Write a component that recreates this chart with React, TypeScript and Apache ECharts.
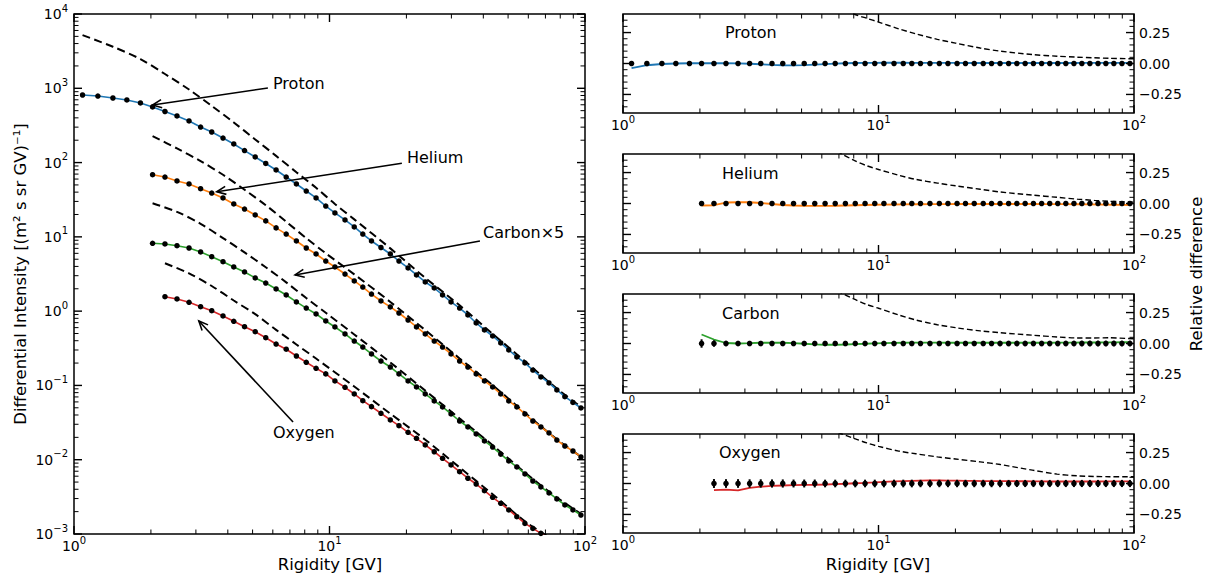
import React, { useEffect, useRef } from 'react';
import * as echarts from 'echarts';

const FONT = '"DejaVu Sans", sans-serif';

// Rigidity bin centres [GV]
const binsR = [1.08, 1.24, 1.42, 1.61, 1.82, 2.03, 2.27, 2.53, 2.82, 3.13,
  3.46, 3.83, 4.22, 4.65, 5.12, 5.63, 6.18, 6.77, 7.42, 8.11,
  8.86, 9.67, 10.5, 11.5, 12.5, 13.5, 14.6, 15.9, 17.3, 18.7,
  20.3, 21.9, 23.7, 25.7, 27.7, 29.9, 32.3, 34.8, 37.5, 40.4,
  43.5, 46.8, 50.3, 54.1, 58.2, 62.5, 67.2, 72.3, 77.6, 83.4,
  89.7, 96.4];

// Differential intensities (left panel); helium & carbon start at binsR[5], oxygen at binsR[6]
const protonFlux = [812, 787, 740, 696, 634, 560, 487, 424, 363, 301,
  258, 214, 178, 145, 119, 97.2, 79.5, 63.9, 51.5, 41.4,
  33.4, 26.0, 21.0, 16.9, 13.6, 10.9, 8.80, 7.19, 5.88, 4.73,
  3.81, 3.07, 2.47, 2.05, 1.65, 1.33, 1.10, 0.888, 0.693, 0.558,
  0.463, 0.373, 0.300, 0.242, 0.201, 0.161, 0.130, 0.108, 0.0869, 0.0706,
  0.0590, 0.0497];
const heliumFlux = [68.7, 63.9, 56.5, 51.5, 44.5, 38.9, 33.4, 27.7, 23.7, 19.7,
  16.4, 13.2, 10.9, 8.80, 7.08, 5.88, 4.73, 3.93, 3.16, 2.55,
  2.11, 1.70, 1.37, 1.14, 0.944, 0.760, 0.612, 0.493, 0.396, 0.329,
  0.265, 0.213, 0.177, 0.143, 0.115, 0.0953, 0.0767, 0.0618, 0.0513, 0.0413,
  0.0332, 0.0276, 0.0229, 0.0184, 0.0153, 0.0131, 0.0109];
const carbonX5Flux = [8.19, 8.02, 7.61, 7.08, 6.26, 5.41, 4.63, 3.93, 3.37, 2.80,
  2.39, 1.99, 1.65, 1.33, 1.10, 0.916, 0.737, 0.612, 0.493, 0.396,
  0.329, 0.265, 0.213, 0.177, 0.143, 0.115, 0.0953, 0.0767, 0.0618, 0.0513,
  0.0413, 0.0332, 0.0276, 0.0222, 0.0179, 0.0148, 0.0119, 0.00962, 0.00799, 0.00643,
  0.00517, 0.00430, 0.00357, 0.00296, 0.00246, 0.00211, 0.00180];
const oxygenFlux = [1.565, 1.458, 1.316, 1.148, 1.014, 0.861, 0.730, 0.618, 0.529, 0.439,
  0.361, 0.307, 0.249, 0.205, 0.170, 0.143, 0.115, 0.0944, 0.0767, 0.0623,
  0.0518, 0.0422, 0.0343, 0.0287, 0.0234, 0.0194, 0.0158, 0.0128, 0.01046, 0.00850,
  0.00690, 0.00563, 0.00471, 0.00383, 0.00312, 0.00259, 0.00211, 0.00171, 0.00139, 0.00119,
  0.00102, 0.000857];

// Local interstellar spectra (dashed, left panel)
const protonLisR = [1.08, 1.42, 1.82, 2.27, 2.82, 3.46, 4.22, 5.12, 6.18, 7.42, 8.86, 10.5, 12.5, 17.3, 23.7, 32.3, 43.5, 58.2, 77.6, 96.4];
const protonLis = [5197, 3626, 2473, 1558, 962, 580, 347, 205, 123, 74.2, 45.8, 27.7, 17.2, 7.0, 2.80, 1.20, 0.494, 0.212, 0.0905, 0.0516];
const heliumLisR = [2.03, 2.53, 3.13, 3.83, 4.65, 5.63, 6.77, 8.11, 9.67, 12.5, 17.3, 23.7, 32.3, 43.5, 58.2, 77.6, 96.4];
const heliumLis = [227, 155, 104.6, 68.5, 43.1, 26.7, 16.0, 9.6, 6.0, 3.13, 1.33, 0.555, 0.231, 0.101, 0.0428, 0.0188, 0.0110];
const carbonLisR = [2.03, 2.53, 3.13, 3.83, 4.65, 5.63, 6.77, 8.11, 9.67, 12.5, 17.3, 23.7, 32.3, 43.5, 58.2, 77.6, 96.4];
const carbonLis = [28.3, 21.7, 15.0, 9.63, 6.17, 3.90, 2.44, 1.50, 0.951, 0.485, 0.204, 0.0851, 0.0359, 0.0157, 0.00672, 0.00310, 0.00187];
const oxygenLisR = [2.27, 2.82, 3.46, 4.22, 5.12, 6.18, 7.42, 8.86, 12.5, 17.3, 23.7, 32.3, 43.5, 58.2, 72.3];
const oxygenLis = [4.41, 3.22, 2.18, 1.39, 0.91, 0.56, 0.356, 0.230, 0.0966, 0.0417, 0.0186, 0.00787, 0.00342, 0.00148, 0.000906];

// Relative difference of model (right panels)
const protonRel = [-0.038, -0.014, -0.004, 0.000, 0.002, 0.002, 0.002, 0.002, 0.001, -0.002,
  -0.006, -0.011, -0.014, -0.015, -0.013, -0.009, -0.005, -0.001, 0.002, 0.004,
  0.005, 0.005, 0.006, 0.006, 0.006, 0.005, 0.005, 0.005, 0.005, 0.005,
  0.005, 0.004, 0.004, 0.004, 0.004, 0.004, 0.004, 0.004, 0.004, 0.004,
  0.004, 0.004, 0.004, 0.004, 0.004, 0.005, 0.005, 0.005, 0.005, 0.005,
  0.005, 0.005];
const heliumRel = [-0.016, -0.014, 0.008, 0.010, 0.010, 0.004, -0.004, -0.012, -0.016, -0.018,
  -0.019, -0.019, -0.018, -0.016, -0.014, -0.012, -0.010, -0.009, -0.008, -0.007,
  -0.006, -0.006, -0.005, -0.005, -0.005, -0.004, -0.004, -0.004, -0.004, -0.004,
  -0.004, -0.004, -0.004, -0.004, -0.004, -0.005, -0.005, -0.005, -0.005, -0.006,
  -0.006, -0.007, -0.008, -0.009, -0.010, -0.011, -0.012];
const carbonRel = [0.073, 0.032, 0.004, 0.000, 0.003, 0.006, 0.007, 0.006, 0.003, -0.002,
  -0.007, -0.010, -0.010, -0.008, -0.005, -0.002, 0.001, 0.003, 0.005, 0.006,
  0.007, 0.007, 0.007, 0.007, 0.006, 0.006, 0.006, 0.006, 0.006, 0.006,
  0.006, 0.006, 0.006, 0.006, 0.006, 0.006, 0.006, 0.007, 0.007, 0.007,
  0.008, 0.008, 0.008, 0.009, 0.009, 0.010, 0.010];
const oxygenRel = [-0.054, -0.050, -0.056, -0.036, -0.026, -0.020, -0.016, -0.013, -0.011, -0.010,
  -0.008, -0.005, -0.002, 0.002, 0.005, 0.009, 0.013, 0.017, 0.020, 0.022,
  0.024, 0.025, 0.025, 0.024, 0.023, 0.022, 0.021, 0.020, 0.020, 0.019,
  0.019, 0.018, 0.018, 0.017, 0.017, 0.016, 0.016, 0.016, 0.016, 0.016,
  0.016, 0.016, 0.017, 0.017, 0.017, 0.017];

// Data error bars (relative) for carbon and oxygen
const carbonErr = [0.034, 0.026, 0.022, 0.021, 0.021, 0.021, 0.021, 0.021, 0.021, 0.021,
  0.021, 0.021, 0.021, 0.021, 0.021, 0.021, 0.021, 0.021, 0.021, 0.021,
  0.021, 0.021, 0.021, 0.021, 0.021, 0.021, 0.021, 0.021, 0.021, 0.021,
  0.022, 0.022, 0.022, 0.022, 0.022, 0.022, 0.022, 0.022, 0.022, 0.022,
  0.023, 0.023, 0.023, 0.023, 0.023, 0.023, 0.023];
const oxygenErr = [0.036, 0.035, 0.035, 0.034, 0.034, 0.033, 0.033, 0.032, 0.032, 0.032,
  0.031, 0.031, 0.031, 0.031, 0.031, 0.031, 0.031, 0.031, 0.031, 0.031,
  0.030, 0.030, 0.030, 0.030, 0.030, 0.030, 0.030, 0.030, 0.030, 0.030,
  0.029, 0.029, 0.029, 0.029, 0.029, 0.029, 0.029, 0.029, 0.029, 0.029,
  0.029, 0.029, 0.029, 0.029, 0.029, 0.029];

// Relative difference of LIS (dashed, right panels)
const relDashR = [6.5, 7, 8, 9, 10, 12, 14, 17, 20, 25, 30, 40, 50, 60, 70, 80, 100];
const protonDash = [0.50, 0.46, 0.40, 0.365, 0.335, 0.28, 0.24, 0.195, 0.165, 0.125, 0.10, 0.072, 0.059, 0.051, 0.046, 0.042, 0.038];
const heliumDash = [0.47, 0.415, 0.35, 0.305, 0.275, 0.228, 0.195, 0.165, 0.143, 0.115, 0.093, 0.068, 0.05, 0.035, 0.025, 0.018, 0.011];
const carbonDash = [0.47, 0.42, 0.36, 0.315, 0.285, 0.23, 0.19, 0.152, 0.128, 0.102, 0.087, 0.067, 0.053, 0.045, 0.045, 0.046, 0.038];
const oxygenDash = [0.45, 0.41, 0.365, 0.328, 0.30, 0.262, 0.24, 0.215, 0.198, 0.175, 0.153, 0.108, 0.076, 0.062, 0.057, 0.055, 0.054];

// Annotations (data coordinates of left panel)
const annLabels = ['Proton', 'Helium', 'Carbon×5', 'Oxygen'];
const annTextR = [6.01, 20.1, 39.9, 6.01];
const annTextI = [1178, 117, 11.6, 0.0233];
const annTailR = [5.74, 19.2, 38.8, 7.20];
const annTailI = [1009, 97.8, 8.80, 0.0322];
const annTipR = [2.03, 3.62, 7.33, 3.08];
const annTipI = [596, 40.5, 3.07, 0.737];

const panelNames = ['Proton', 'Helium', 'Carbon', 'Oxygen'];
const colors = ['#1f77b4', '#ff7f0e', '#2ca02c', '#d62728'];

const xMajorTicks = [1, 10, 100];
const xMinorTicks = [2, 3, 4, 5, 6, 7, 8, 9, 20, 30, 40, 50, 60, 70, 80, 90];
const yMainMajor = [1e-3, 1e-2, 1e-1, 1, 10, 100, 1000, 10000];
const yMainMinor: number[] = [];
for (let e = -3; e < 4; e++) for (let k = 2; k <= 9; k++) yMainMinor.push(k * Math.pow(10, e));
const yRelMajor = [-0.25, 0, 0.25];
const yRelMinor = [-0.35, -0.3, -0.2, -0.15, -0.1, -0.05, 0.05, 0.1, 0.15, 0.2, 0.3, 0.35];

const pts = (xs: number[], ys: number[]) => ys.map((y, i) => [xs[i], y]);

const supRich = {
  b: { fontSize: 14, lineHeight: 22, verticalAlign: 'middle', fontFamily: FONT, color: '#000' },
  s: { fontSize: 10, lineHeight: 12, verticalAlign: 'top', fontFamily: FONT, color: '#000' },
};
const powLabel = (v: number) => {
  const e = Math.round(Math.log10(v));
  return '{b|10}{s|' + String(e).replace('-', '\u2212') + '}';
};

function tickSeries(gi: number, items: number[][]) {
  return {
    type: 'custom',
    xAxisIndex: gi,
    yAxisIndex: gi,
    silent: true,
    z: 10,
    data: items,
    renderItem: (params: any, api: any) => {
      const cs = params.coordSys;
      const kind = api.value(3);
      const major = api.value(2) === 1;
      const len = major ? 8 : 4.5;
      const style = { stroke: '#000', lineWidth: major ? 1.4 : 1 };
      const p = api.coord([api.value(0), api.value(1)]);
      if (kind === 0) {
        const x = p[0];
        return {
          type: 'group', children: [
            { type: 'line', shape: { x1: x, y1: cs.y + cs.height, x2: x, y2: cs.y + cs.height - len }, style },
            { type: 'line', shape: { x1: x, y1: cs.y, x2: x, y2: cs.y + len }, style },
          ],
        };
      }
      const y = p[1];
      return {
        type: 'group', children: [
          { type: 'line', shape: { x1: cs.x, y1: y, x2: cs.x + len, y2: y }, style },
          { type: 'line', shape: { x1: cs.x + cs.width, y1: y, x2: cs.x + cs.width - len, y2: y }, style },
        ],
      };
    },
  };
}

export default function App() {
  const ref = useRef<HTMLDivElement>(null);
  useEffect(() => {
    if (!ref.current) return;
    const chart = echarts.init(ref.current, undefined, { renderer: 'svg' });

    const panelTops = [14, 154, 294, 434];
    const grids: any[] = [
      { left: 74, top: 14, width: 511, height: 520 },
      ...panelTops.map((t) => ({ left: 623, top: t, width: 511, height: 99 })),
    ].map((g) => ({ ...g, show: true, borderColor: '#000', borderWidth: 1.5, backgroundColor: 'transparent', containLabel: false, outerBoundsMode: 'none' }));

    const xAxes: any[] = grids.map((_, i) => ({
      type: 'log', logBase: 10, min: 1, max: 100, gridIndex: i,
      axisLine: { show: false }, axisTick: { show: false }, splitLine: { show: false },
      axisLabel: { formatter: powLabel, rich: supRich, margin: 1 },
    }));
    const yAxes: any[] = [
      {
        type: 'log', logBase: 10, min: 1e-3, max: 1e4, gridIndex: 0,
        axisLine: { show: false }, axisTick: { show: false }, splitLine: { show: false },
        axisLabel: { formatter: powLabel, rich: supRich, margin: 6 },
      },
      ...panelTops.map((_, k) => ({
        type: 'value', min: -0.4, max: 0.4, interval: 0.05, gridIndex: k + 1, position: 'right',
        axisLine: { show: false }, axisTick: { show: false }, splitLine: { show: false },
        axisLabel: {
          margin: 5, fontSize: 14, fontFamily: FONT, color: '#000',
          formatter: (v: number) => (Math.abs(v - 0.25) < 1e-6 ? '0.25' : Math.abs(v) < 1e-6 ? '0.00' : Math.abs(v + 0.25) < 1e-6 ? '\u22120.25' : ''),
        },
      })),
    ];

    const mainR = [binsR, binsR.slice(5), binsR.slice(5), binsR.slice(6)];
    const mainFlux = [protonFlux, heliumFlux, carbonX5Flux, oxygenFlux];
    const lisR = [protonLisR, heliumLisR, carbonLisR, oxygenLisR];
    const lisV = [protonLis, heliumLis, carbonLis, oxygenLis];
    const relR = [binsR, binsR.slice(5), binsR.slice(5), binsR.slice(6)];
    const relV = [protonRel, heliumRel, carbonRel, oxygenRel];
    const dashV = [protonDash, heliumDash, carbonDash, oxygenDash];
    const errV: (number[] | null)[] = [null, null, carbonErr, oxygenErr];

    const series: any[] = [];
    for (let k = 0; k < 4; k++) {
      series.push({
        type: 'line', xAxisIndex: 0, yAxisIndex: 0, data: pts(lisR[k], lisV[k]), showSymbol: false, smooth: 0.3,
        lineStyle: { color: '#000', width: 2, type: [8, 4.5] }, z: 2, silent: true,
      });
      series.push({
        type: 'line', xAxisIndex: 0, yAxisIndex: 0, data: pts(mainR[k], mainFlux[k]), showSymbol: false,
        lineStyle: { color: colors[k], width: 1.6 }, z: 3, silent: true,
      });
      series.push({
        type: 'scatter', xAxisIndex: 0, yAxisIndex: 0, data: pts(mainR[k], mainFlux[k]), symbolSize: 5.5,
        itemStyle: { color: '#000', opacity: 1 }, z: 4, silent: true,
      });
      const gi = k + 1;
      series.push({
        type: 'line', xAxisIndex: gi, yAxisIndex: gi, data: pts(relDashR, dashV[k]), showSymbol: false, smooth: 0.3,
        lineStyle: { color: '#000', width: 1.4, type: [5.5, 3] }, z: 2, silent: true,
      });
      series.push({
        type: 'line', xAxisIndex: gi, yAxisIndex: gi, data: pts(relR[k], relV[k]), showSymbol: false,
        lineStyle: { color: colors[k], width: 1.8 }, z: 3, silent: true,
      });
      const ev = errV[k];
      if (ev) {
        series.push({
          type: 'custom', xAxisIndex: gi, yAxisIndex: gi, silent: true, z: 4,
          data: relR[k].map((r, i) => [r, 0, ev[i]]),
          renderItem: (_p: any, api: any) => {
            const a = api.coord([api.value(0), api.value(1) - api.value(2)]);
            const b = api.coord([api.value(0), api.value(1) + api.value(2)]);
            return { type: 'line', shape: { x1: a[0], y1: a[1], x2: b[0], y2: b[1] }, style: { stroke: '#000', lineWidth: 2 } };
          },
        });
      }
      series.push({
        type: 'scatter', xAxisIndex: gi, yAxisIndex: gi, data: relR[k].map((r) => [r, 0]), symbolSize: 5.5,
        itemStyle: { color: '#000', opacity: 1 }, z: 5, silent: true,
      });
    }

    // ticks
    series.push(tickSeries(0, [
      ...xMajorTicks.map((v) => [v, 1e-3, 1, 0]),
      ...xMinorTicks.map((v) => [v, 1e-3, 0, 0]),
      ...yMainMajor.map((v) => [1, v, 1, 1]),
      ...yMainMinor.map((v) => [1, v, 0, 1]),
    ]));
    for (let k = 1; k <= 4; k++) {
      series.push(tickSeries(k, [
        ...xMajorTicks.map((v) => [v, -0.4, 1, 0]),
        ...xMinorTicks.map((v) => [v, -0.4, 0, 0]),
        ...yRelMajor.map((v) => [1, v, 1, 1]),
        ...yRelMinor.map((v) => [1, v, 0, 1]),
      ]));
    }

    // annotations
    series.push({
      type: 'custom', xAxisIndex: 0, yAxisIndex: 0, silent: true, z: 20,
      data: annLabels.map((_, i) => [annTextR[i], annTextI[i], annTailR[i], annTailI[i], annTipR[i], annTipI[i]]),
      renderItem: (params: any, api: any) => {
        const txt = api.coord([api.value(0), api.value(1)]);
        const tail = api.coord([api.value(2), api.value(3)]);
        const tip = api.coord([api.value(4), api.value(5)]);
        const ang = Math.atan2(tail[1] - tip[1], tail[0] - tip[0]);
        const hl = 10, ha = 0.42;
        const h1 = [tip[0] + hl * Math.cos(ang + ha), tip[1] + hl * Math.sin(ang + ha)];
        const h2 = [tip[0] + hl * Math.cos(ang - ha), tip[1] + hl * Math.sin(ang - ha)];
        const st = { stroke: '#000', lineWidth: 1.6, fill: 'none' };
        return {
          type: 'group', children: [
            { type: 'line', shape: { x1: tail[0], y1: tail[1], x2: tip[0], y2: tip[1] }, style: st },
            { type: 'polyline', shape: { points: [h1, tip, h2] }, style: st },
            {
              type: 'text', x: txt[0], y: txt[1],
              style: { text: annLabels[params.dataIndex], fill: '#000', fontSize: 16, fontFamily: FONT, align: 'left', verticalAlign: 'middle' },
            },
          ],
        };
      },
    });

    const panelLabelPos = [[725, 32], [722, 173], [722, 313], [719, 452]];
    const graphic: any[] = [
      ...panelNames.map((n, k) => ({
        type: 'text', x: panelLabelPos[k][0], y: panelLabelPos[k][1], silent: true,
        style: { text: n, fill: '#000', fontSize: 16, fontFamily: FONT, align: 'left', verticalAlign: 'middle' },
      })),
      { type: 'text', x: 330, y: 564, silent: true, style: { text: 'Rigidity [GV]', fill: '#000', fontSize: 16.5, fontFamily: FONT, align: 'center', verticalAlign: 'middle' } },
      { type: 'text', x: 878, y: 564, silent: true, style: { text: 'Rigidity [GV]', fill: '#000', fontSize: 16.5, fontFamily: FONT, align: 'center', verticalAlign: 'middle' } },
      { type: 'text', x: 20, y: 274, rotation: Math.PI / 2, silent: true, style: { text: 'Differential Intensity [(m\u00b2 s sr GV)\u207b\u00b9]', fill: '#000', fontSize: 16.5, fontFamily: FONT, align: 'center', verticalAlign: 'middle' } },
      { type: 'text', x: 1196, y: 274, rotation: Math.PI / 2, silent: true, style: { text: 'Relative difference', fill: '#000', fontSize: 16.5, fontFamily: FONT, align: 'center', verticalAlign: 'middle' } },
    ];

    chart.setOption({
      animation: false,
      backgroundColor: '#fff',
      grid: grids,
      xAxis: xAxes,
      yAxis: yAxes,
      series,
      graphic,
    });
    return () => chart.dispose();
  }, []);
  return <div ref={ref} style={{ position: 'fixed', left: 0, top: 0, width: 1208, height: 577 }} />;
}
